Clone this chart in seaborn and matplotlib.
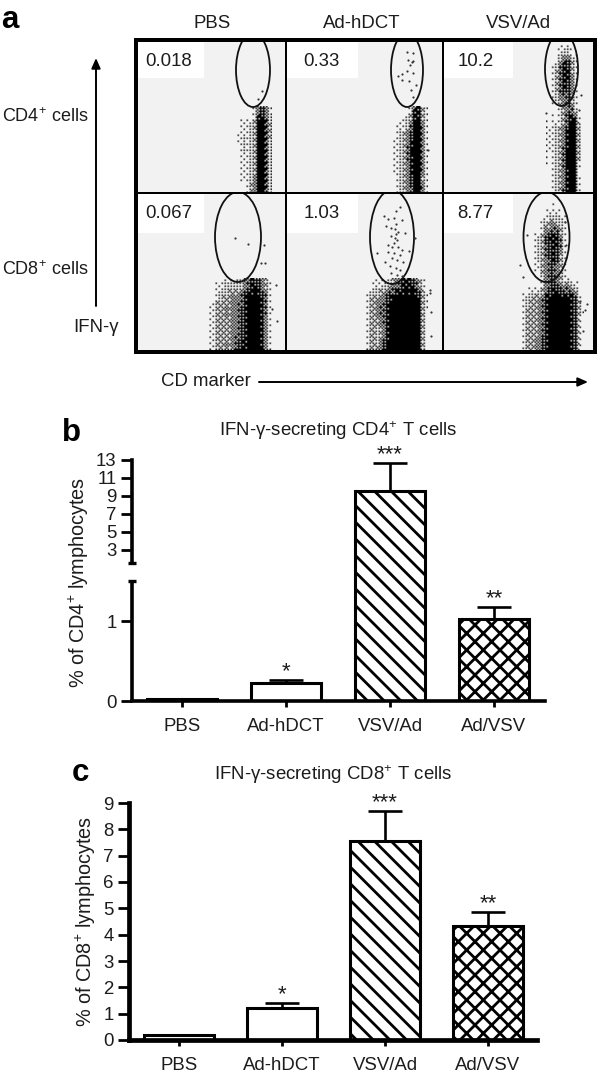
import numpy as np
import pandas as pd
import matplotlib
matplotlib.use("Agg")
import matplotlib.pyplot as plt
from matplotlib.colors import LinearSegmentedColormap
from matplotlib.patches import Rectangle, Ellipse
import seaborn as sns

groups = ["PBS", "Ad-hDCT", "VSV/Ad", "Ad/VSV"]
cd4_values = [0.03, 0.22, 9.6, 1.02]
cd4_err_top = [0.03, 0.26, 12.7, 1.17]
cd8_values = [0.2, 1.2, 7.55, 4.33]
cd8_err_top = [0.2, 1.42, 8.7, 4.85]
stars = ["", "*", "***", "**"]
hatches = ["", "", "\\\\", "xx"]
cd4_ticks = [0, 1, 3, 5, 7, 9, 11, 13]
cd8_ticks = list(range(10))

# density of events: (x0, y0, dx, dy, rows)
p1 = (236, 106, 5, 12.4, [
    [0, 0, .03, .2, .8, .9, .3],
    [.12, .2, .3, .4, 1, 1, .45],
    [.2, .25, .3, .45, 1, 1, .45],
    [.12, .25, .3, .45, 1, 1, .35],
    [.08, .2, .3, .5, 1, 1, .35],
    [.05, .2, .35, .5, 1, 1, .35],
    [.02, .12, .35, .55, 1, 1, .4]])
p2 = (392, 106, 5, 12.4, [
    [0, 0, .05, .3, .9, .9, .1],
    [.05, .2, .3, .6, 1, 1, .15],
    [.15, .3, .45, .8, 1, 1, .15],
    [.2, .35, .5, .9, 1, 1, .15],
    [.2, .35, .5, .85, 1, 1, .2],
    [.15, .3, .5, .8, 1, 1, .1],
    [.1, .3, .45, .75, 1, 1, .15]])
p3 = (546, 44, 5, 12, [
    [0, 0, .1, .25, .25, .1, 0],
    [0, .1, .55, .85, .8, .3, 0],
    [0, .15, .7, .95, .9, .35, 0],
    [0, .2, .65, .85, .85, .4, 0],
    [0, .15, .5, .7, .75, .35, 0],
    [0, .05, .2, .5, .7, .6, .05],
    [.1, .15, .3, .55, 1, 1, .25],
    [.2, .3, .45, .7, 1, 1, .3],
    [.2, .3, .4, .75, 1, 1, .3],
    [.12, .25, .4, .8, 1, .95, .25],
    [.05, .2, .35, .75, 1, .95, .15],
    [.05, .25, .4, .7, 1, 1, .2],
    [.02, .2, .45, .75, 1, 1, .2]])
p4 = (208, 278, 6, 12, [
    [0, .12, .25, .3, .3, .35, .7, .9, .8, .4, .02],
    [.05, .35, .45, .5, .55, .7, 1, 1, 1, .65, .05],
    [.1, .45, .5, .55, .6, .8, 1, 1, 1, .65, .03],
    [.1, .45, .5, .5, .6, .8, 1, 1, 1, .6, .03],
    [.1, .45, .45, .5, .6, .8, 1, 1, 1, .6, .02],
    [.1, .5, .5, .55, .65, .85, 1, 1, 1, .6, .02]])
p5 = (362, 278, 6, 12, [
    [0, .1, .2, .25, .35, .6, .85, .9, .85, .5, .05],
    [.02, .45, .5, .65, .9, 1, 1, 1, 1, .9, .1],
    [.02, .5, .55, .7, 1, 1, 1, 1, 1, .95, .08],
    [.02, .45, .5, .7, 1, 1, 1, 1, 1, .95, .05],
    [.02, .45, .4, .65, 1, 1, 1, 1, 1, .95, .03],
    [.02, .5, .45, .75, 1, 1, 1, 1, 1, 1, .05]])
p6 = (518, 196, 6, 12, [
    [0, 0, 0, 0, 0, .05, .05, 0, 0, 0, 0],
    [0, 0, 0, 0, .1, .3, .3, .1, 0, 0, 0],
    [0, 0, 0, .12, .45, .6, .55, .25, 0, 0, 0],
    [0, 0, .05, .35, .75, .95, .9, .4, .05, 0, 0],
    [0, 0, .1, .4, .7, .9, .85, .35, .03, 0, 0],
    [0, 0, .05, .3, .65, .85, .7, .25, .02, 0, 0],
    [0, 0, 0, .2, .6, .8, .6, .15, 0, 0, 0],
    [0, .02, .05, .1, .5, .85, .75, .6, .6, .3, 0],
    [.1, .4, .5, .55, .9, 1, 1, 1, 1, .75, .05],
    [.1, .45, .5, .6, .95, 1, 1, 1, 1, .8, .08],
    [.1, .45, .5, .6, .95, 1, 1, 1, 1, .75, .05],
    [.1, .45, .5, .6, .95, 1, 1, 1, 1, .75, .03],
    [.1, .5, .5, .65, .95, 1, 1, 1, 1, .8, .03]])
densities = [p1, p2, p3, p4, p5, p6]

# individual events visible in the picture
dots_x = [262, 258, 407, 413, 408, 412, 410, 413, 407, 413, 402, 398, 402, 409, 416, 411, 413, 428,
          581, 579, 546, 235, 248, 264, 261, 265, 276, 277, 272,
          400, 396, 384, 388, 394, 402, 396, 386, 391, 395, 398, 396, 405, 391, 395, 397, 394, 388,
          392, 398, 402, 388, 394, 400, 377, 392, 397, 385, 403, 390, 396, 400, 391, 397, 402, 415, 409,
          430, 430, 431, 431, 520, 523, 580, 587, 585, 583, 565, 566, 527]
dots_y = [91, 99, 52, 53, 60, 62, 65, 61, 71, 73, 74, 76, 80, 81, 85, 90, 97, 150,
          95, 110, 113, 238, 244, 245, 263, 263, 285, 321, 309,
          207, 211, 216, 219, 218, 220, 224, 226, 228, 229, 232, 234, 233, 236, 238, 240, 243, 245,
          247, 247, 250, 252, 253, 255, 253, 258, 260, 262, 262, 266, 268, 270, 273, 275, 276, 238, 251,
          290, 293, 312, 336, 265, 277, 301, 304, 310, 331, 222, 245, 235]

panel_x = [(138, 285), (287, 442), (444, 593)]
panel_y = [(42, 192), (194, 350)]
gates = [(253, 70, 17, 37), (407, 70, 16, 37), (561.5, 69, 16.5, 37),
         (238, 237, 23, 45), (392, 237, 22, 47), (546.5, 237, 23, 45)]
gate_labels = ["0.018", "0.33", "10.2", "0.067", "1.03", "8.77"]
label_x = [169, 321, 476, 169, 322, 475]
label_boxes = [(138, 204), (287, 358), (444, 513)]
# ordered-dither thresholds: the typed densities are printed as a halftone
BAYER = np.array([[0, 8, 2, 10], [12, 4, 14, 6], [3, 11, 1, 9], [15, 7, 13, 5]])

FS = 13.4
sns.set_theme(style="white")
plt.rcParams["font.family"] = ["Liberation Sans", "DejaVu Sans"]
plt.rcParams["mathtext.default"] = "regular"
plt.rcParams["hatch.linewidth"] = 2.0
INK = "#1c1c1c"
W, H = 600, 1072
fig = plt.figure(figsize=(W / 100, H / 100), dpi=100, facecolor="white")


def px_axes(left, top, right, bottom):
    return fig.add_axes([left / W, 1 - bottom / H, (right - left) / W, (bottom - top) / H])


def halftone(x0, y0, dx, dy, rows, cell=1.5):
    rows = np.asarray(rows, float)
    nr, nc = rows.shape
    gx = np.arange(x0, x0 + dx * nc, cell)
    gy = np.arange(y0, y0 + dy * nr, cell)
    cx = x0 + dx * (np.arange(nc) + .5)
    cy = y0 + dy * (np.arange(nr) + .5)
    by_row = np.array([np.interp(gx, cx, r) for r in rows])
    fine = np.array([np.interp(gy, cy, by_row[:, j]) for j in range(len(gx))]).T
    ix = (np.round(gx / cell).astype(int)) % 4
    iy = (np.round(gy / cell).astype(int)) % 4
    thr = (BAYER[np.ix_(iy, ix)] + .5) / 16
    return (fine ** 1.3 > thr).astype(float), (gx[0], gx[-1] + cell, gy[-1] + cell, gy[0])


# ---------- panel a, drawn in page pixels ----------
pg = fig.add_axes([0, 0, 1, 1], zorder=5)
pg.axis("off")
pg.patch.set_alpha(0)
pg.add_patch(Rectangle((134, 38), 463, 316, fc="black", ec="none", zorder=0))
cmap = LinearSegmentedColormap.from_list("ev", [(0, 0, 0, 0), (0, 0, 0, 1)])
k = 0
for r, (y0, y1) in enumerate(panel_y):
    for c, (x0, x1) in enumerate(panel_x):
        clip = Rectangle((x0, y0), x1 - x0, y1 - y0, fc="#f2f2f2", ec="none", zorder=1)
        pg.add_patch(clip)
        bx0, bx1 = label_boxes[c]
        pg.add_patch(Rectangle((bx0, y0), bx1 - bx0, 36 if r == 0 else 39, fc="white", ec="none", zorder=2))
        mask, ext = halftone(*densities[k])
        im = pg.imshow(mask, extent=ext, cmap=cmap, vmin=0, vmax=1, interpolation="bilinear",
                       aspect="auto", zorder=3)
        im.set_clip_path(clip)
        cx, cy, hw, hh = gates[k]
        e = Ellipse((cx, cy), 2 * hw, 2 * hh, fc="none", ec="#111111", lw=1.3, zorder=4)
        pg.add_patch(e)
        e.set_clip_path(clip)
        pg.text(label_x[k], y0 + 19, gate_labels[k], ha="center", va="center", fontsize=FS, color=INK, zorder=6)
        k += 1
pg.set_xlim(0, W)
pg.set_ylim(H, 0)
pg.scatter(dots_x, dots_y, s=2.5, c="#333333", linewidths=0, zorder=5)

for x, name in zip([212, 362, 518], ["PBS", "Ad-hDCT", "VSV/Ad"]):
    pg.text(x, 24, name, ha="center", va="center", fontsize=FS, color=INK)
pg.text(2, 117, "CD4$^{+}$ cells", ha="left", va="center", fontsize=13, color=INK)
pg.text(2, 270, "CD8$^{+}$ cells", ha="left", va="center", fontsize=13, color=INK)
pg.text(96, 327, "IFN-γ", ha="center", va="center", fontsize=FS, color=INK)
pg.text(161, 381, "CD marker", ha="left", va="center", fontsize=FS, color=INK)
arrow = dict(arrowstyle="-|>,head_width=0.22,head_length=0.5", color="black", lw=1.4, shrinkA=0, shrinkB=0)
pg.annotate("", xy=(96, 58), xytext=(96, 306), arrowprops=arrow)
pg.annotate("", xy=(588, 382), xytext=(259, 382), arrowprops=arrow)
for (x, y, s) in [(10, 20, "a"), (72, 433, "b"), (80, 773, "c")]:
    pg.text(x, y, s, ha="center", va="center", fontsize=22.5, fontweight="bold", color="black")

pg.text(338, 431, "IFN-γ-secreting CD4$^{+}$ T cells", ha="center", va="center", fontsize=FS, color=INK)
pg.text(333, 775, "IFN-γ-secreting CD8$^{+}$ T cells", ha="center", va="center", fontsize=FS, color=INK)
pg.text(79, 582, "% of CD4$^{+}$ lymphocytes", rotation=90, ha="center", va="center", fontsize=14.3, color=INK)
pg.text(86, 921, "% of CD8$^{+}$ lymphocytes", rotation=90, ha="center", va="center", fontsize=14.3, color=INK)


# ---------- bar panels ----------
def bars(ax, values, tops, spine_w):
    df = pd.DataFrame({"group": groups, "value": values})
    sns.barplot(data=df, x="group", y="value", color="white", saturation=1, width=0.675,
                edgecolor="black", linewidth=2.2, errorbar=None, ax=ax)
    for patch, h in zip(ax.patches, hatches):
        patch.set_hatch(h)
    xs = np.arange(len(groups))
    low = np.zeros(len(values))
    up = np.array(tops) - np.array(values)
    ax.errorbar(xs, values, yerr=[low, up], fmt="none", ecolor="black", elinewidth=1.9,
                capsize=12.5, capthick=1.9, zorder=1)
    for x, t, s in zip(xs, tops, stars):
        if s:
            ax.annotate(s, xy=(x, t), xytext=(0, 6), textcoords="offset points", ha="center",
                        va="center", fontsize=16, color=INK, annotation_clip=False)
    ax.set_xlabel("")
    ax.set_ylabel("")
    sns.despine(ax=ax)
    ax.patch.set_alpha(0)
    for side in ["left", "bottom"]:
        ax.spines[side].set_linewidth(spine_w)
        ax.spines[side].set_color("black")
    ax.tick_params(axis="y", length=8, width=2, pad=3, labelsize=FS, labelcolor=INK, color="black", left=True)
    ax.tick_params(axis="x", length=4, width=2, pad=8, labelsize=FS, labelcolor=INK, color="black", bottom=True)


# broken CD4 axis: lower part 0-1.5, upper part from just below 3 to 13
scale_vals = [0, 1.5, 1.55, 13]
scale_pos = [0, 120, 138, 241]


def fwd(v):
    return np.interp(v, scale_vals, scale_pos)


def inv(p):
    return np.interp(p, scale_pos, scale_vals)


ax_b = px_axes(132, 460, 545, 701)
ax_b.set_yscale("function", functions=(fwd, inv))
bars(ax_b, cd4_values, cd4_err_top, 2.6)
ax_b.set_yscale("function", functions=(fwd, inv))
ax_b.set_ylim(0, 13)
ax_b.set_xlim(-0.48, 3.49)
ax_b.set_yticks(cd4_ticks)
ax_b.set_yticklabels([str(t) for t in cd4_ticks])
ax_b.set_yticks([1.5, 1.55], minor=True)
ax_b.tick_params(axis="y", which="minor", length=6, width=2.4, direction="inout", left=True, color="black")
ax_b.spines["left"].set_bounds(1.55, 13)
ax_b.plot([0, 0], [0, 1.5], transform=ax_b.get_yaxis_transform(), color="black", lw=2.6,
          clip_on=False, solid_capstyle="butt")

ax_c = px_axes(129, 803, 537, 1040)
bars(ax_c, cd8_values, cd8_err_top, 3.4)
ax_c.set_ylim(0, 9)
ax_c.set_xlim((129 - 179) / 103, (537 - 179) / 103)
ax_c.set_yticks(cd8_ticks)
ax_c.set_yticklabels([str(t) for t in cd8_ticks])

fig.savefig("out.png", dpi=100, facecolor="white")
